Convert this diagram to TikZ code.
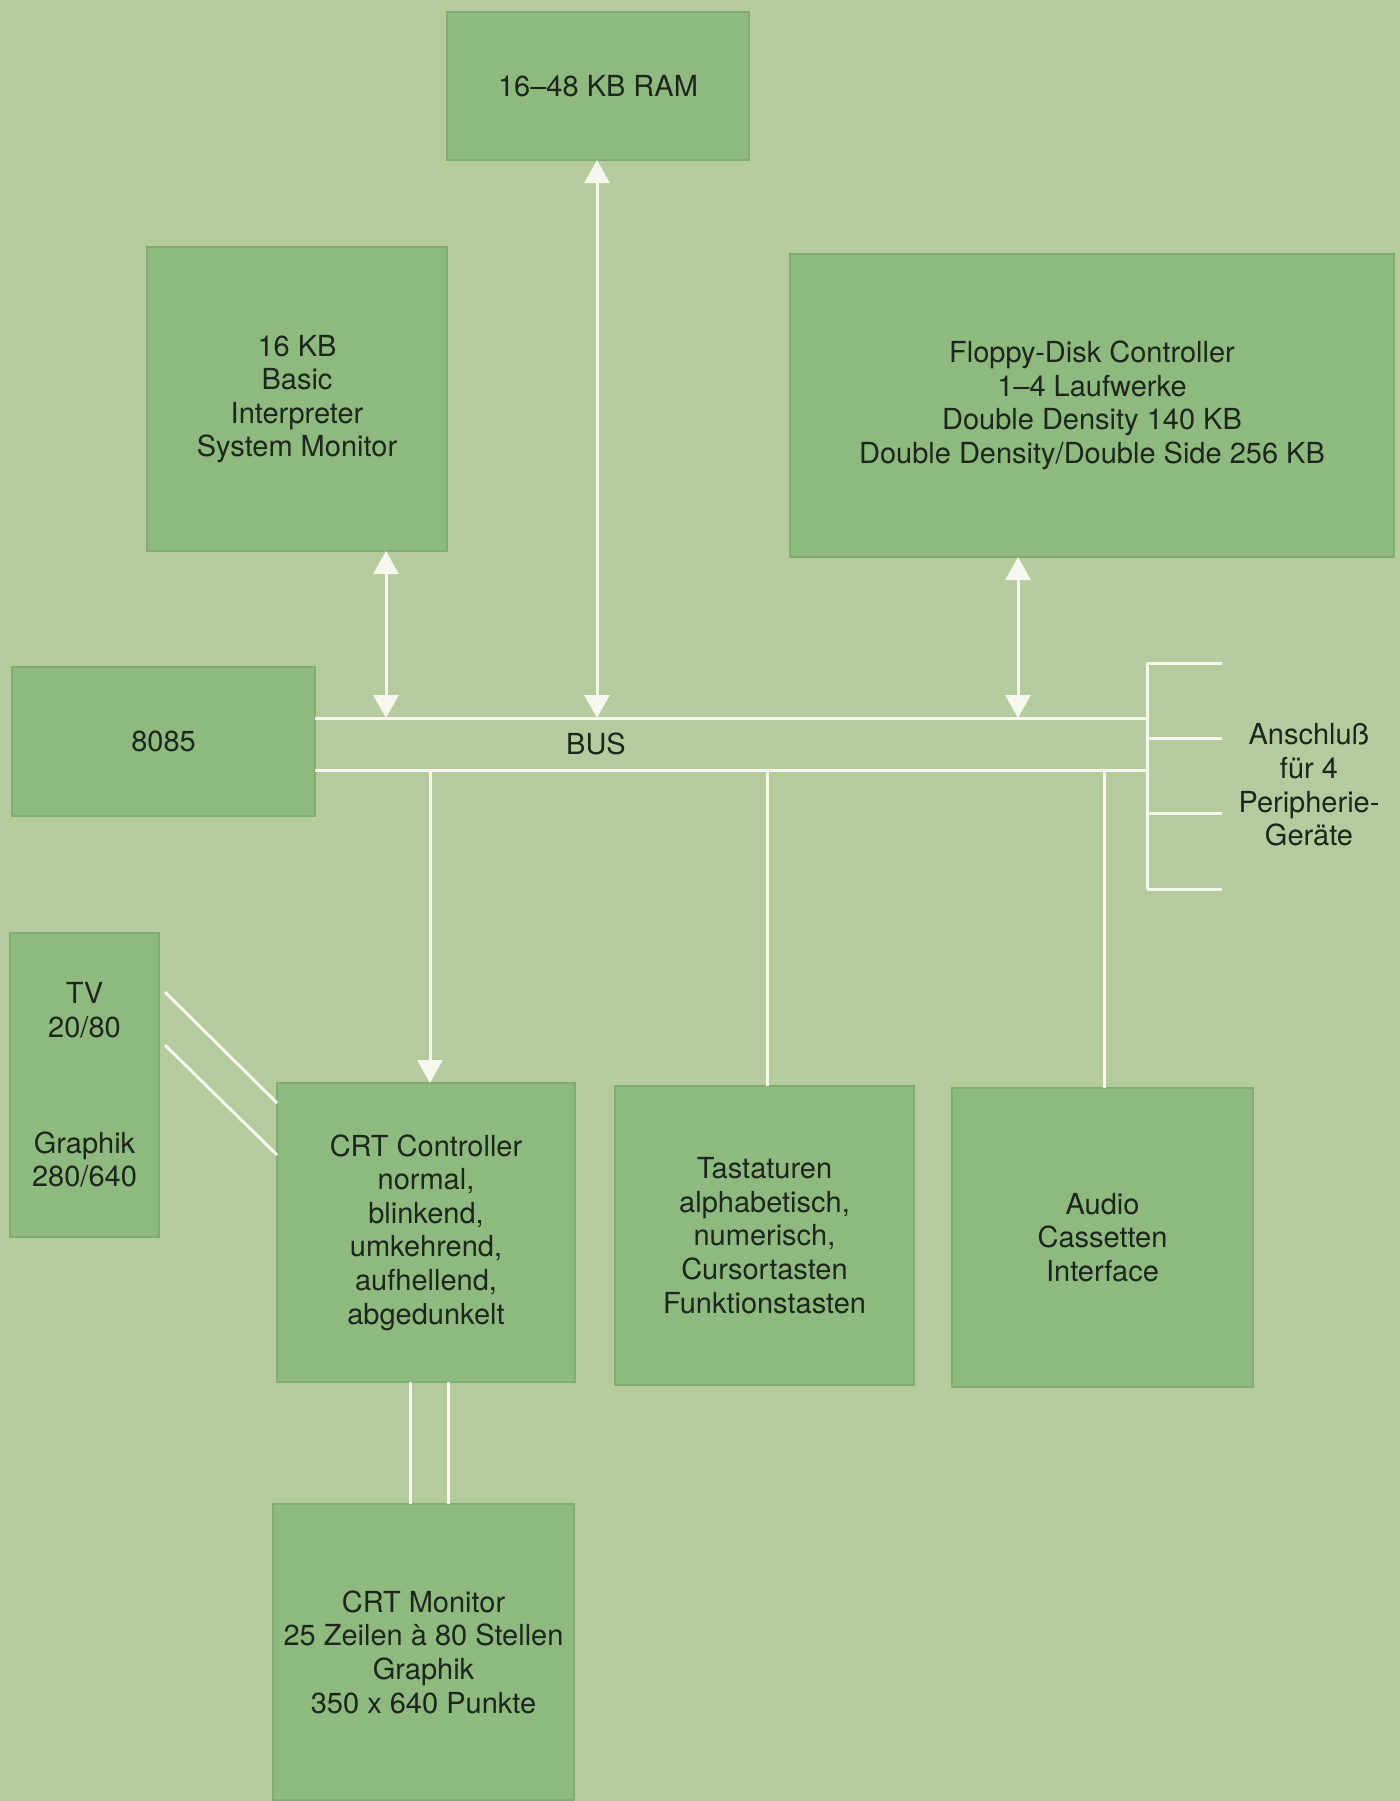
\documentclass[tikz,border=0pt]{standalone}
\usepackage{fontspec}
\setmainfont{TeX Gyre Heros}
\usetikzlibrary{arrows.meta,calc}
\definecolor{bg}{HTML}{B5CB9D}
\definecolor{boxg}{HTML}{8FBA7F}
\definecolor{boxedge}{HTML}{80AC72}
\definecolor{ink}{HTML}{1C261C}
\definecolor{wline}{HTML}{F6F8EE}
\begin{document}
\begin{tikzpicture}[x=0.5pt,y=-0.5pt,
  blk/.style={draw=boxedge, line width=0.6pt, fill=boxg, inner sep=0pt, outer sep=0pt,
    align=center, text=ink, font=\fontsize{14.5}{16.8}\selectfont},
  lbl/.style={align=center, text=ink, font=\fontsize{14.5}{16.8}\selectfont, inner sep=0pt},
  wire/.style={draw=wline, line width=1.5pt},
  tipw/.tip={Triangle[width=12.5pt,length=11.5pt]},
  both/.style={wire, tipw-tipw},
  down/.style={wire, -tipw}]
\fill[bg] (0,0) rectangle (1400,1801);
\useasboundingbox (0,0) rectangle (1400,1801);

% boxes
\node[blk, minimum width=151pt, minimum height=74pt] (ram) at (598,86) {16–48 KB RAM};
\node[blk, minimum width=150pt, minimum height=152pt] (basic) at (297,399)
  {16 KB\\Basic\\Interpreter\\System Monitor};
\node[blk, minimum width=302pt, minimum height=151.5pt] (floppy) at (1092,405.5)
  {Floppy-Disk Controller\\1–4 Laufwerke\\Double Density 140 KB\\Double Density/Double Side 256 KB};
\node[blk, minimum width=151.5pt, minimum height=74.5pt] (cpu) at (163.5,741.5) {8085};
\node[blk, minimum width=74.5pt, minimum height=152pt] (tv) at (84.5,1085)
  {TV\\20/80\\[41pt]Graphik\\280/640};
\node[blk, minimum width=149pt, minimum height=149.5pt] (crt) at (426,1232.5)
  {CRT Controller\\normal,\\blinkend,\\umkehrend,\\aufhellend,\\abgedunkelt};
\node[blk, minimum width=149.5pt, minimum height=149.5pt] (tast) at (764.5,1235.5)
  {Tastaturen\\alphabetisch,\\numerisch,\\Cursortasten\\Funktionstasten};
\node[blk, minimum width=150.5pt, minimum height=149.5pt] (audio) at (1102.5,1237.5)
  {Audio\\Cassetten\\Interface};
\node[blk, minimum width=150.5pt, minimum height=148pt] (mon) at (423.5,1652)
  {CRT Monitor\\25 Zeilen à 80 Stellen\\Graphik\\350 x 640 Punkte};

% labels
\node[lbl] (bus) at (596,744) {BUS};
\node[lbl] (anschl) at (1309,785) {Anschluß\\für 4\\Peripherie-\\Geräte};

% bus and bracket coordinates
\coordinate (bt) at (1147,718);
\coordinate (bb) at (1147,770);
\coordinate (k1) at (1147,663);
\coordinate (k2) at (1147,738);
\coordinate (k3) at (1147,813);
\coordinate (k4) at (1147,889);
\coordinate (e1) at (1222,663);
\coordinate (e2) at (1222,738);
\coordinate (e3) at (1222,813);
\coordinate (e4) at (1222,889);

% bus lines
\draw[wire] (cpu.east |- bt) -- (bt);
\draw[wire] (cpu.east |- bb) -- (bb);
% bracket
\draw[wire] (k1) -- (k4);
\draw[wire] (k1) -- (e1);
\draw[wire] (k2) -- (e2);
\draw[wire] (k3) -- (e3);
\draw[wire] (k4) -- (e4);

% arrows to bus
\draw[both] (basic.south -| 386,0) -- (bt -| 386,0);
\draw[both] (ram.south -| 597,0) -- (bt -| 597,0);
\draw[both] (floppy.south -| 1018,0) -- (bt -| 1018,0);
\draw[down] (bb -| 430,0) -- (crt.north -| 430,0);
\draw[wire] (bb -| 767,0) -- (tast.north -| 767,0);
\draw[wire] (bb -| 1104,0) -- (audio.north -| 1104,0);

% TV to CRT controller
\draw[wire] ($(tv.east |- 0,992)+(6,0)$) -- (crt.west |- 0,1103);
\draw[wire] ($(tv.east |- 0,1045)+(6,0)$) -- (crt.west |- 0,1155);

% CRT controller to monitor
\draw[wire] (crt.south -| 410,0) -- (mon.north -| 410,0);
\draw[wire] (crt.south -| 448,0) -- (mon.north -| 448,0);
\end{tikzpicture}
\end{document}
